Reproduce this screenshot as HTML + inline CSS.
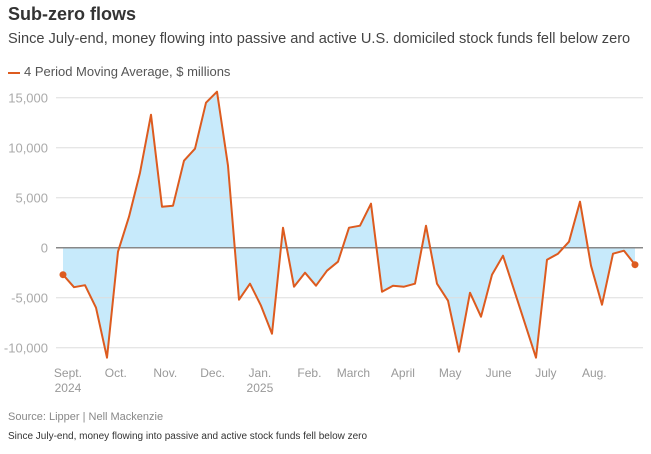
<!DOCTYPE html>
<html><head><meta charset="utf-8"><style>
body{margin:0;width:651px;height:454px;background:#fff;font-family:"Liberation Sans",sans-serif;overflow:hidden;position:relative}
.t{position:absolute;left:8px;white-space:nowrap}
</style></head><body>
<div class="t" style="top:4px;font-size:18px;font-weight:bold;color:#333">Sub-zero flows</div>
<div class="t" style="top:31px;font-size:14.6px;color:#444">Since July-end, money flowing into passive and active U.S. domiciled stock funds fell below zero</div>
<div class="t" style="top:64px;font-size:13px;color:#555"><span style="display:inline-block;width:12px;height:2px;background:#dd5b1f;vertical-align:middle;margin-right:4px"></span>4 Period Moving Average, $ millions</div>
<svg id="c" width="651" height="454" style="position:absolute;left:0;top:0"></svg>
<div class="t" style="top:411px;font-size:11px;color:#888">Source: Lipper | Nell Mackenzie</div>
<div class="t" style="top:431px;font-size:10px;color:#333">Since July-end, money flowing into passive and active stock funds fell below zero</div>
<script>
const values=[-2700,-3950,-3750,-6000,-11000,-400,3100,7500,13300,4100,4200,8700,9900,14500,15600,8200,-5200,-3600,-5800,-8600,2000,-3900,-2500,-3800,-2300,-1400,2000,2200,4400,-4400,-3800,-3900,-3600,2200,-3600,-5300,-10400,-4500,-6900,-2700,-800,-4200,-7600,-11000,-1200,-600,600,4600,-1800,-5700,-600,-300,-1700];
const yTicks=[15000,10000,5000,0,-5000,-10000];
const monthLabels=["Sept.","Oct.","Nov.","Dec.","Jan.","Feb.","March","April","May","June","July","Aug."];
const monthIdx=[0.45,4.8,9.3,13.6,17.9,22.4,26.4,30.9,35.2,39.6,43.9,48.3];
const yearLabels=[["2024",0.45],["2025",17.9]];
const NS="http://www.w3.org/2000/svg",svg=document.getElementById('c');
const x=i=>63+i*(635-63)/(values.length-1);
const y=v=>247.7-v*0.01;
function mk(t,a){const e=document.createElementNS(NS,t);for(const k in a)e.setAttribute(k,a[k]);svg.appendChild(e);return e;}
yTicks.forEach(v=>{
 const l=mk('line',{x1:56,x2:643,y1:y(v),y2:y(v),stroke:v===0?'#888':'#ddd','stroke-width':v===0?1.5:1});
 
 
 const t=mk('text',{x:48,y:y(v)+5,'text-anchor':'end','font-size':13,fill:'#aaa','font-family':'Liberation Sans'});
 t.textContent=v.toLocaleString('en-US');
 
 
});
let d='M'+x(0)+','+y(0);
values.forEach((v,i)=>d+='L'+x(i)+','+y(v));
d+='L'+x(values.length-1)+','+y(0)+'Z';
const a=mk('path',{d:d,fill:'#c7eafb'});


svg.insertBefore(a,svg.firstChild);
const ln=mk('polyline',{points:values.map((v,i)=>x(i)+','+y(v)).join(' '),fill:'none',stroke:'#dd5b1f','stroke-width':2,'stroke-linejoin':'round'});


[0,values.length-1].forEach(i=>{
 const c=mk('circle',{cx:x(i),cy:y(values[i]),r:3.5,fill:'#dd5b1f'});
 
 
});
monthLabels.forEach((m,k)=>{
 const t=mk('text',{x:x(monthIdx[k]),y:377,'text-anchor':'middle','font-size':12,fill:'#999','font-family':'Liberation Sans'});
 t.textContent=m;
 
 
});
yearLabels.forEach(([s,i])=>{
 const t=mk('text',{x:x(i),y:392,'text-anchor':'middle','font-size':12,fill:'#999','font-family':'Liberation Sans'});
 t.textContent=s;
 
 
});
</script>
</body></html>
